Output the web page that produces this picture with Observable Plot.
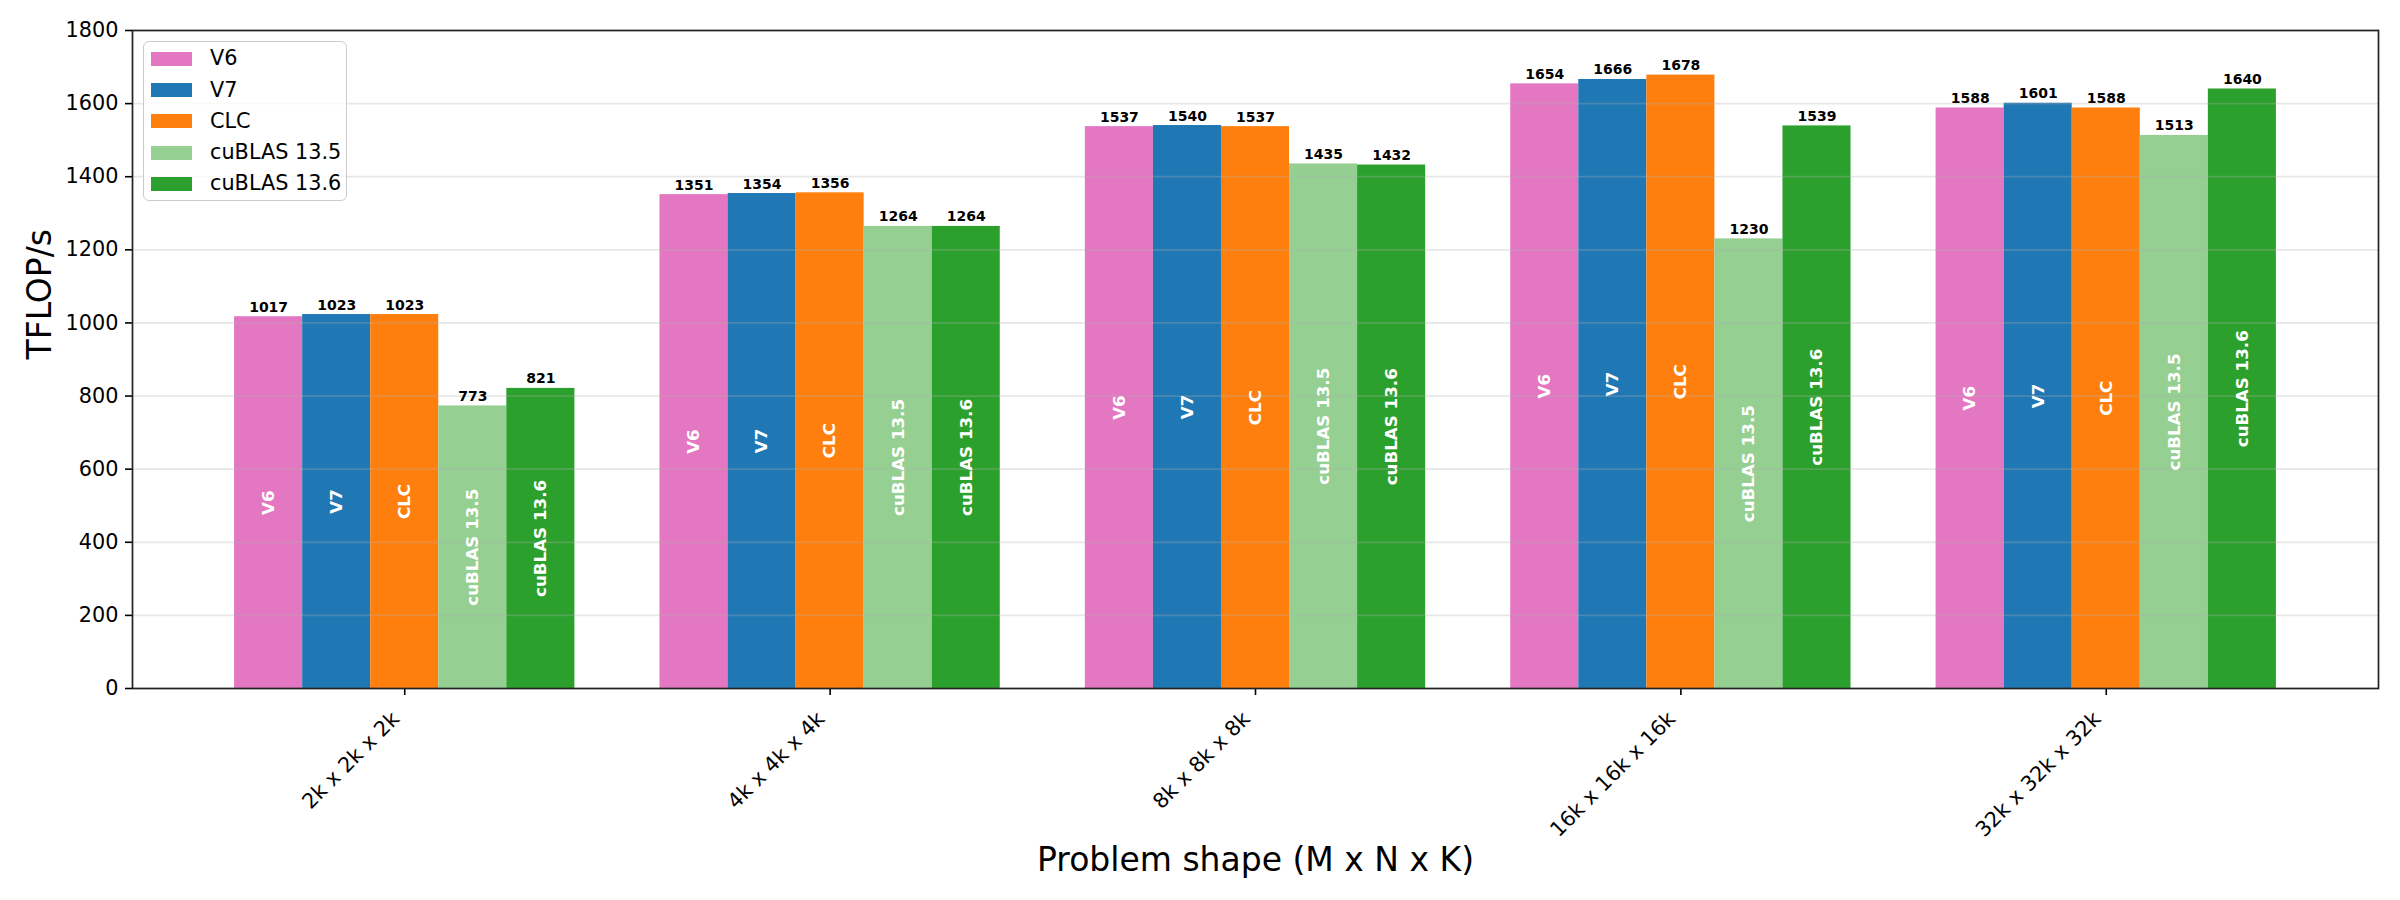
<!DOCTYPE html>
<html>
<head>
<meta charset="utf-8">
<script src="https://cdn.jsdelivr.net/npm/d3@7"></script>
<script src="https://cdn.jsdelivr.net/npm/@observablehq/plot@0.6"></script>
<style>
  html, body { margin: 0; padding: 0; background: #fff; }
  #wrap { position: relative; width: 2400px; height: 900px; font-family: "DejaVu Sans", sans-serif; }
  #legend {
    position: absolute; left: 143px; top: 41px; width: 204px; height: 160px;
    border: 1.7px solid #cccccc; border-radius: 6px; background: rgba(255,255,255,0.8);
    box-sizing: border-box; padding-top: 1px;
  }
  .row { display: flex; align-items: center; height: 31.3px; }
  .sw { width: 41px; height: 14px; margin-left: 7px; margin-right: 18px; }
  .lb { font-size: 20.8px; color: #000; line-height: 1; }
</style>
</head>
<body>
<div id="wrap"><div id="legend"></div></div>
<script>
const shapes = ["2k x 2k x 2k", "4k x 4k x 4k", "8k x 8k x 8k", "16k x 16k x 16k", "32k x 32k x 32k"];
const series = ["V6", "V7", "CLC", "cuBLAS 13.5", "cuBLAS 13.6"];
const colors = ["#e377c2", "#1f77b4", "#ff7f0e", "#95cf92", "#2ca02c"];
const v6 = [1017, 1351, 1537, 1654, 1588];
const v7 = [1023, 1354, 1540, 1666, 1601];
const clc = [1023, 1356, 1537, 1678, 1588];
const cublas135 = [773, 1264, 1435, 1230, 1513];
const cublas136 = [821, 1264, 1432, 1539, 1640];
const yTicks = [0, 200, 400, 600, 800, 1000, 1200, 1400, 1600, 1800];

const seriesValues = [v6, v7, clc, cublas135, cublas136];
const barW = 0.16;
const table = [];
shapes.forEach((s, i) => {
  series.forEach((name, j) => {
    const c = i + (j - (series.length - 1) / 2) * barW;
    table.push({shape: s, series: name, value: seriesValues[j][i], x1: c - barW / 2, x2: c + barW / 2, xc: c});
  });
});

const chart = Plot.plot({
  width: 2400,
  height: 900,
  marginLeft: 132,
  marginRight: 22,
  marginTop: 30,
  marginBottom: 212,
  style: {fontFamily: "DejaVu Sans", fontSize: "20.8px", color: "#000", background: "#fff"},
  x: {type: "linear", domain: [-0.64, shapes.length - 1 + 0.64], label: null},
  y: {domain: [0, 1800], label: null},
  color: {domain: series, range: colors},
  marks: [
    Plot.rectY(table, {x1: "x1", x2: "x2", y1: 0, y2: "value", fill: "series"}),
    Plot.gridY(yTicks, {stroke: "#b0b0b0", strokeOpacity: 0.3, strokeWidth: 1.7}),
    Plot.text(table, {x: "xc", y: d => d.value / 2, text: "series", rotate: -90, fill: "white",
      fontWeight: "bold", fontSize: 16.7, textAnchor: "middle", lineAnchor: "middle"}),
    Plot.text(table, {x: "xc", y: "value", text: d => String(d.value), dy: -9.5,
      fontWeight: "bold", fontSize: 14, lineAnchor: "middle", fill: "#000"}),
    Plot.axisY(yTicks, {tickSize: 7, tickPadding: 7, strokeWidth: 1.6, fontSize: 20.8, label: null,
      tickFormat: d => String(d)}),
    Plot.axisX(d3.range(shapes.length), {tickSize: 7, tickFormat: () => "", strokeWidth: 1.6, label: null}),
    Plot.text(shapes, {x: (d, i) => i, frameAnchor: "bottom", text: d => d, rotate: -45,
      textAnchor: "end", lineAnchor: "middle", dx: -9, dy: 27, fontSize: 20.8, fill: "#000"}),
    Plot.frame({stroke: "#222", strokeWidth: 1.7}),
    Plot.text(["Problem shape (M x N x K)"], {frameAnchor: "bottom", text: d => d, fontSize: 33,
      lineAnchor: "middle", dy: 172, fill: "#000"}),
    Plot.text(["TFLOP/s"], {frameAnchor: "left", text: d => d, fontSize: 33, rotate: -90,
      lineAnchor: "middle", dx: -92, fill: "#000"})
  ]
});
document.getElementById("wrap").prepend(chart);

const legend = document.getElementById("legend");
series.forEach((name, j) => {
  const row = document.createElement("div");
  row.className = "row";
  row.innerHTML = `<div class="sw" style="background:${colors[j]}"></div><div class="lb">${name}</div>`;
  legend.appendChild(row);
});
</script>
</body>
</html>
